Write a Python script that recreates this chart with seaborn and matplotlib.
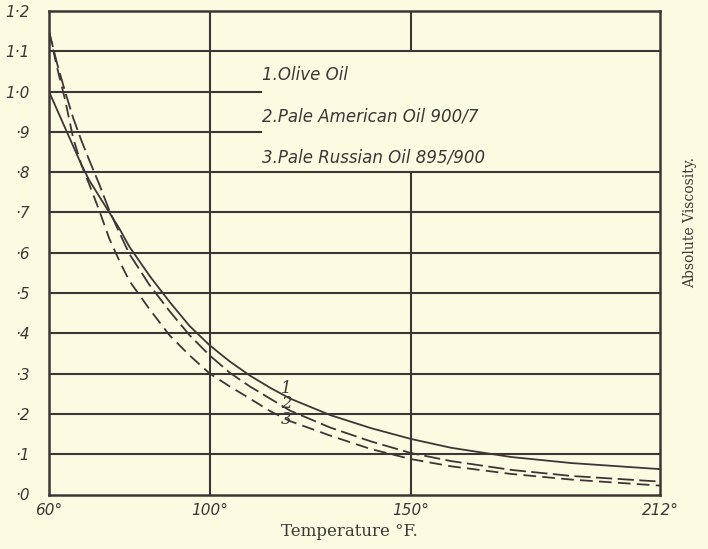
import matplotlib
matplotlib.use("Agg")
import matplotlib.pyplot as plt
import seaborn as sns
import pandas as pd

# ---- data ----
temps = [60, 62, 64, 66, 68, 70, 72.5, 75, 77.5, 80, 85, 90, 95, 100, 105, 110,
         115, 120, 130, 140, 150, 160, 175, 190, 212]
olive = [1.00, 0.955, 0.91, 0.865, 0.82, 0.78, 0.74, 0.70, 0.66, 0.615, 0.543, 0.478,
         0.418, 0.37, 0.33, 0.295, 0.265, 0.238, 0.197, 0.165, 0.138, 0.116, 0.093,
         0.078, 0.063]
american = [1.15, 1.07, 1.00, 0.935, 0.88, 0.83, 0.77, 0.705, 0.65, 0.597, 0.52, 0.455,
            0.395, 0.345, 0.302, 0.268, 0.238, 0.208, 0.166, 0.132, 0.103, 0.083, 0.061,
            0.046, 0.032]
russian = [1.15, 1.06, 0.98, 0.885, 0.82, 0.77, 0.705, 0.635, 0.58, 0.53, 0.46, 0.395,
           0.345, 0.30, 0.268, 0.238, 0.207, 0.182, 0.146, 0.113, 0.088, 0.07, 0.051,
           0.037, 0.022]
series_names = ["1", "2", "3"]
legend_lines = ["1.Olive Oil", "2.Pale American Oil 900/7", "3.Pale Russian Oil 895/900"]
xticks = [60, 100, 150, 212]
xtick_labels = ["60°", "100°", "150°", "212°"]
yticks = [0.0, 0.1, 0.2, 0.3, 0.4, 0.5, 0.6, 0.7, 0.8, 0.9, 1.0, 1.1, 1.2]
ytick_labels = ["·0", "·1", "·2", "·3", "·4", "·5", "·6", "·7", "·8", "·9",
                "1·0", "1·1", "1·2"]

df = pd.DataFrame({
    "temp": temps * 3,
    "visc": olive + american + russian,
    "oil": [series_names[0]] * len(temps) + [series_names[1]] * len(temps)
           + [series_names[2]] * len(temps),
})

BG = "#fbfbe2"
INK = "#3e3636"

sns.set_theme(style="white")
plt.rcParams["font.family"] = ["DejaVu Sans"]

fig = plt.figure(figsize=(7.08, 5.49), dpi=100, facecolor=BG)
ax = fig.add_axes([49 / 708, 1 - 494.5 / 549, (660 - 49) / 708, (494.5 - 11) / 549])
ax.set_facecolor(BG)

# grid (drawn by hand to mimic the partial lines of the original)
for yv in [0.1, 0.2, 0.3, 0.4, 0.5, 0.6, 0.7, 0.8, 1.1]:
    ax.axhline(yv, color=INK, lw=1.5, zorder=1)
for yv in [0.9, 1.0]:
    ax.hlines(yv, 60, 113, color=INK, lw=1.5, zorder=1)
ax.axvline(100, color=INK, lw=1.5, zorder=1)
ax.vlines(150, 0, 0.8, color=INK, lw=1.5, zorder=1)
ax.vlines(150, 1.1, 1.2, color=INK, lw=1.5, zorder=1)

sns.lineplot(data=df, x="temp", y="visc", hue="oil", style="oil",
             palette={n: INK for n in series_names},
             dashes={"1": "", "2": (9, 3), "3": (7, 3.5)},
             linewidth=1.3, legend=False, ax=ax, zorder=3, sort=False)

ax.set_xlim(60, 212)
ax.set_ylim(0, 1.2)
ax.set_xticks(xticks)
ax.set_xticklabels(xtick_labels, fontsize=11, style="italic", color=INK)
ax.set_yticks(yticks)
ax.set_yticklabels(ytick_labels, fontsize=11, style="italic", color=INK)
ax.tick_params(axis="both", length=0)
ax.tick_params(axis="y", pad=14)
ax.tick_params(axis="x", pad=6)
for lbl in ax.get_xticklabels():
    lbl.set_x(lbl.get_position()[0])
ax.set_xlabel("")
ax.set_ylabel("")
for s in ax.spines.values():
    s.set_visible(True)
    s.set_color(INK)
    s.set_linewidth(1.8)

# legend text block
for txt, yv in zip(legend_lines, [1.04, 0.937, 0.837]):
    ax.text(113, yv, txt, fontsize=12, style="italic", color=INK, va="center", ha="left")

# curve number labels
for txt, yv in zip(series_names, [0.264, 0.226, 0.185]):
    ax.text(119, yv, txt, fontsize=12, style="italic", family="DejaVu Serif",
            color=INK, va="center", ha="center")

fig.text(349 / 708, 1 - 531 / 549, "Temperature °F.", fontsize=12,
         family="DejaVu Serif", color=INK, ha="center", va="center")
fig.text(690 / 708, 1 - 222 / 549, "Absolute Viscosity.", fontsize=10,
         family="DejaVu Serif", color=INK, rotation=90, ha="center", va="center")

fig.savefig("out.png", dpi=100, facecolor=BG)
